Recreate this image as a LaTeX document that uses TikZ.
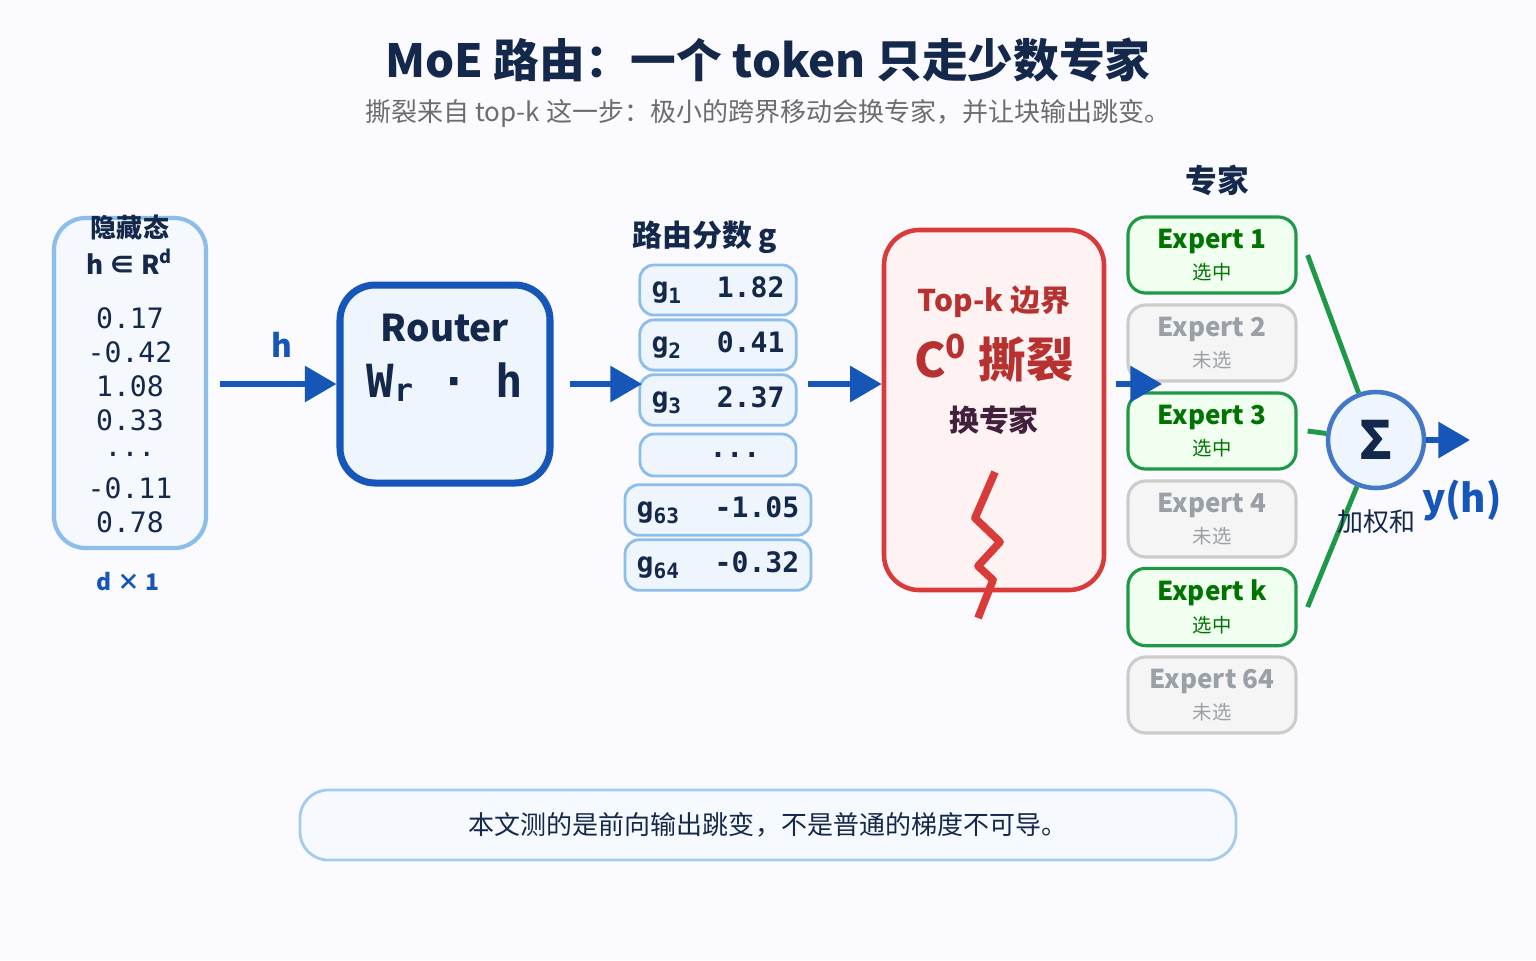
\documentclass[tikz,border=0pt]{standalone}
\usepackage{fontspec}
\setmainfont{Noto Sans CJK SC}
\newfontfamily\monofont{DejaVu Sans Mono}
\usetikzlibrary{arrows.meta}
\definecolor{navy}{HTML}{14284B}
\definecolor{flowblue}{HTML}{1556B8}
\definecolor{paleblue}{HTML}{EEF5FD}
\definecolor{lineblue}{HTML}{8DBDEA}
\definecolor{tearred}{HTML}{D93A3A}
\definecolor{okgreen}{HTML}{1E9A46}
\definecolor{mutegray}{HTML}{9AA0A8}
\newcommand{\skipdots}{...}

\tikzset{
  flow/.style={draw=flowblue, line width=1.6pt, -{Triangle[length=9pt,width=10pt]}},
  score/.style={draw=lineblue, fill=paleblue, rounded corners=4pt, line width=0.8pt,
    minimum width=1.56cm, minimum height=0.42cm, font=\monofont\bfseries\fontsize{8}{9}\selectfont, text=navy},
  picked/.style={draw=okgreen, fill=green!6, rounded corners=5pt, line width=0.9pt,
    minimum width=1.68cm, minimum height=0.62cm, align=center, text=green!45!black},
  skipped/.style={draw=gray!40, fill=gray!8, rounded corners=5pt, line width=0.9pt,
    minimum width=1.68cm, minimum height=0.62cm, align=center, text=mutegray},
  num/.style={font=\monofont\fontsize{8}{9}\selectfont, text=navy}
}

\begin{document}
\begin{tikzpicture}[x=1cm, y=-1cm]
    % Background
    \fill[white!96!blue!40] (0,0) rectangle (15.36,9.6);
    \useasboundingbox (0,0) rectangle (15.36,9.6);

    % Title
    \node[font=\bfseries\fontsize{13}{15}\selectfont, text=navy] (title) at (7.68,0.6) {MoE 路由：一个 token 只走少数专家};
    \node[font=\fontsize{7.4}{9}\selectfont, text=gray!85!black] (sub) at (7.68,1.13) {撕裂来自 top-k 这一步：极小的跨界移动会换专家，并让块输出跳变。};

    % Hidden state
    \draw[draw=lineblue, fill=paleblue!60, rounded corners=9pt, line width=1.2pt] (0.54,2.18) rectangle (2.06,5.48);
    \node[font=\bfseries\fontsize{7.4}{9}\selectfont, text=navy] (hname) at (1.3,2.27) {隐藏态};
    \node[font=\bfseries\fontsize{7.4}{9}\selectfont, text=navy] (hdim) at (1.3,2.62) {h ∈ R\textsuperscript{d}};
    \foreach \v [count=\i] in {0.17,-0.42,1.08,0.33,\skipdots,-0.11,0.78}
        \node[num] (hv\i) at (1.3,{3.18+0.34*(\i-1)}) {\v};
    \node[font=\bfseries\fontsize{6.5}{8}\selectfont, text=flowblue] (hsize) at (1.28,5.82) {d × 1};

    % Router
    \coordinate (hout) at (2.2,3.84);
    \node[draw=flowblue, fill=paleblue, rounded corners=10pt, line width=2pt,
          minimum width=2.1cm, minimum height=1.98cm] (router) at (4.45,3.84) {};
    \node[font=\bfseries\fontsize{10.5}{12}\selectfont, text=navy] (rname) at (4.45,3.28) {Router};
    \node[font=\monofont\bfseries\fontsize{13}{15}\selectfont, text=navy] (rform) at (4.45,3.82) {W\raisebox{-0.1em}{\fontsize{9}{9}\selectfont r} · h};
    \draw[flow] (hout) -- (router.west);
    \node[font=\bfseries\fontsize{9}{10}\selectfont, text=flowblue] (hlab) at (2.82,3.45) {h};

    % Scores
    \node[font=\bfseries\fontsize{8.5}{10}\selectfont, text=navy] (gname) at (7.05,2.37) {路由分数 g};
    \foreach \lab/\val [count=\i] in {g\textsubscript{1}/1.82,g\textsubscript{2}/0.41,g\textsubscript{3}/2.37,/\skipdots,g\textsubscript{63}/-1.05,g\textsubscript{64}/-0.32}
        \node[score] (g\i) at (7.18,{2.9+0.55*(\i-1)}) {\lab\ \ \val};
    \draw[flow] (router.east) ++(0.16,0) -- (6.42,3.84);

    % Top-k tear
    \node[draw=tearred, fill=red!5, rounded corners=10pt, line width=1.3pt,
          minimum width=2.2cm, minimum height=3.6cm] (topk) at (9.94,4.1) {};
    \draw[flow] (8.08,3.84) -- (topk.west |- 0,3.84);
    \node[font=\bfseries\fontsize{8.5}{10}\selectfont, text=tearred!85!black] (tk1) at (9.94,3.02) {Top-k 边界};
    \node[font=\bfseries\fontsize{13.5}{15}\selectfont, text=tearred!85!black] (tk2) at (9.94,3.58) {C\textsuperscript{0} 撕裂};
    \node[font=\bfseries\fontsize{8.5}{10}\selectfont, text=navy!80!red] (tk3) at (9.94,4.2) {换专家};
    \draw[tearred, line width=2.2pt, line join=round] (9.95,4.72) -- (9.75,5.18) -- (10.0,5.42) -- (9.78,5.66) -- (9.93,5.8) -- (9.78,6.18);

    % Experts
    \node[font=\bfseries\fontsize{9}{10}\selectfont, text=navy] (ename) at (12.17,1.8) {专家};
    \foreach \k/\sty/\tag [count=\i] in {1/picked/选中,2/skipped/未选,3/picked/选中,4/skipped/未选,k/picked/选中,64/skipped/未选}
        \node[\sty] (e\i) at (12.12,{2.55+0.88*(\i-1)})
            {{\bfseries\fontsize{7.4}{8.5}\selectfont Expert \k}\\[-3pt]{\fontsize{5.5}{6}\selectfont \tag}};
    \draw[flow] (11.16,3.84) -- (11.62,3.84);

    % Weighted sum
    \node[circle, draw=flowblue!80, fill=paleblue, line width=1.3pt, minimum size=0.96cm,
          font=\bfseries\fontsize{15}{16}\selectfont, text=navy, inner sep=0pt] (sum) at (13.76,4.4) {Σ};
    \foreach \i in {1,3,5}
        \draw[okgreen, line width=1.4pt] (e\i.east) ++(0.1,0) -- (sum);
    \coordinate (yout) at (14.7,4.4);
    \draw[flow] (sum.east) -- (yout);
    \node[font=\fontsize{7.4}{9}\selectfont, text=navy] (wsum) at (13.76,5.22) {加权和};
    \node[font=\bfseries\fontsize{11}{12}\selectfont, text=flowblue] (yh) at (14.62,5.0) {y(h)};

    % Note
    \node[draw=lineblue!80, fill=paleblue!50, rounded corners=8pt, line width=0.8pt,
          minimum width=9.36cm, minimum height=0.7cm, font=\fontsize{7.4}{9}\selectfont, text=navy] (note) at (7.68,8.25)
          {本文测的是前向输出跳变，不是普通的梯度不可导。};
\end{tikzpicture}
\end{document}
